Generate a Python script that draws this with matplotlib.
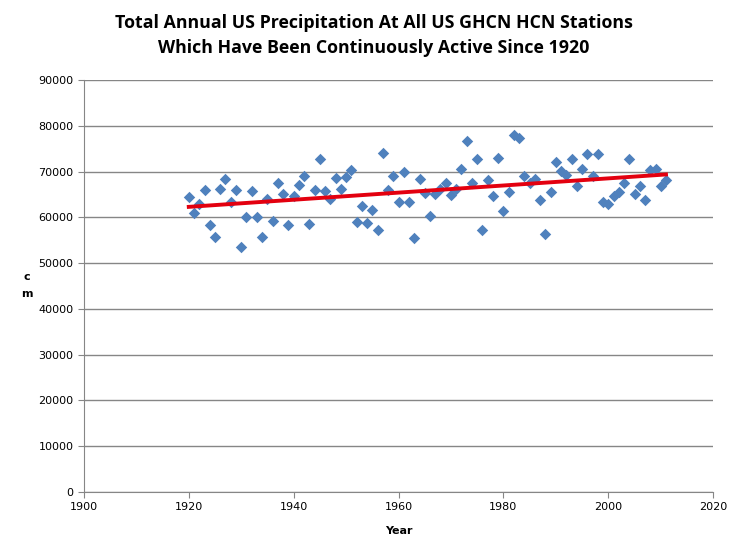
import numpy as np
import matplotlib
matplotlib.use("Agg")
import matplotlib.pyplot as plt
from matplotlib import font_manager

years = list(range(1920, 2012))
precip = [64500, 61000, 62900, 66000, 58300, 55700, 66200, 68300, 63400, 66000,
          53500, 60100, 65700, 60100, 55800, 64000, 59200, 67500, 65200, 58300,
          64700, 67000, 69000, 58500, 66000, 72700, 65700, 64100, 68500, 66300,
          68900, 70300, 58900, 62500, 58700, 61500, 57200, 74000, 66000, 69000,
          63300, 70000, 63300, 55400, 68400, 65400, 60400, 65100, 66200, 67600,
          64900, 66200, 70500, 76600, 67600, 72700, 57200, 68100, 64700, 72900,
          61300, 65500, 78100, 77300, 69000, 67400, 68300, 63700, 56300, 65500,
          72000, 70100, 69200, 72800, 66800, 70600, 73800, 69000, 73800, 63300,
          63000, 64700, 65500, 67600, 72700, 65200, 66800, 63900, 70300, 70600,
          66800, 68100]
xticks = [1900, 1920, 1940, 1960, 1980, 2000, 2020]
yticks = list(range(0, 90001, 10000))

title = "Total Annual US Precipitation At All US GHCN HCN Stations\nWhich Have Been Continuously Active Since 1920"

names = {f.name for f in font_manager.fontManager.ttflist}
if "Liberation Sans Narrow" in names:
    tfam, tsize = "Liberation Sans Narrow", 15.5
else:
    tfam, tsize = "Open Sans", 12.8

fig = plt.figure(figsize=(7.36, 5.52), dpi=100)
ax = fig.add_axes([0.114, 0.1087, 0.855, 0.7463])

ax.scatter(years, precip, marker="D", s=34, color="#4F81BD", zorder=3, linewidths=0)
coef = np.polyfit(years, precip, 1)
xs = np.array([years[0], years[-1]])
ax.plot(xs, np.polyval(coef, xs), color="#E3000F", lw=2.8, zorder=4)

ax.set_xlim(1900, 2020)
ax.set_ylim(0, 90000)
ax.set_xticks(xticks)
ax.set_yticks(yticks)
ax.set_yticklabels([str(v) for v in yticks])
ax.yaxis.grid(True, color="#868686", lw=1)
ax.set_axisbelow(True)
for s in ["top", "right"]:
    ax.spines[s].set_visible(False)
for s in ["left", "bottom"]:
    ax.spines[s].set_color("#868686")
ax.tick_params(axis="both", colors="#868686", labelcolor="black", labelsize=8, length=4, direction="out")

ax.set_xlabel("Year", fontsize=8, fontweight="bold", labelpad=10)
fig.text(0.037, 0.483, "c\nm", fontsize=8, fontweight="bold", ha="center", va="center", linespacing=1.8)

fig.text(0.508, 0.935, title, ha="center", va="center", fontsize=tsize, fontweight="bold",
         family=[tfam, "DejaVu Sans"], linespacing=1.5)

fig.savefig("out.png", dpi=100)
